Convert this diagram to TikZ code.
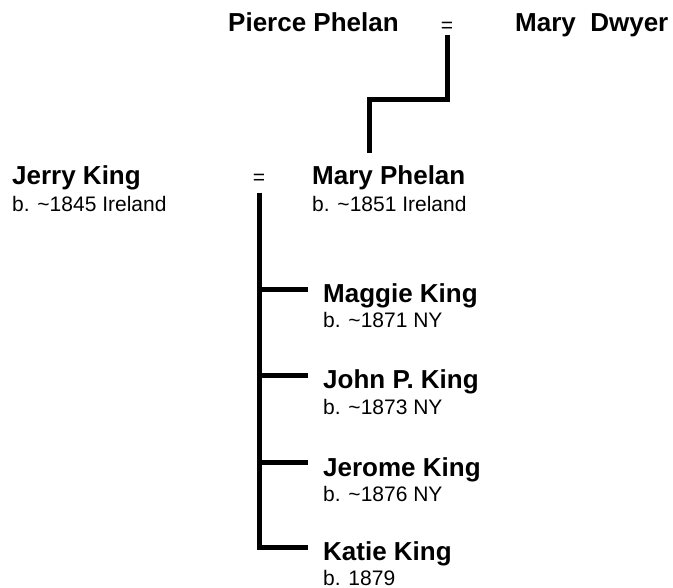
\documentclass[tikz,border=0pt]{standalone}
\usepackage{fontspec}
\setmainfont{Liberation Sans}
\begin{document}
\begin{tikzpicture}[x=1pt,y=-1pt,
  person/.style={anchor=base west,inner sep=0pt,font=\fontsize{26}{26}\selectfont\bfseries},
  born/.style={anchor=base west,inner sep=0pt,font=\fontsize{21}{21}\selectfont},
  marr/.style={inner sep=0pt,font=\fontsize{21}{21}\selectfont},
  famline/.style={line width=5pt}]
\useasboundingbox (0,0) rectangle (673,588);

% Mary's parents
\node[person] (pierce) at (228,32) {Pierce Phelan};
\node[marr] (eq1) at (447,27) {=};
\node[person] (dwyer) at (515,32) {Mary\ \ Dwyer};

% the couple
\node[person] (jerry) at (12,185) {Jerry King};
\node[born] (jerryb) at (12,212) {b. \textasciitilde1845 Ireland};
\node[marr] (eq2) at (259,179) {=};
\node[person] (mary) at (312,185) {Mary Phelan};
\node[born] (maryb) at (312,212) {b. \textasciitilde1851 Ireland};

%line from the parents down to Mary:
\coordinate (up) at (447,35);
\coordinate (down) at (369,153);
\draw[famline] (up) -- ++(0,65) -| (down);

% the children
\foreach \y/\nm/\b/\k in {290/Maggie King/b. \textasciitilde1871 NY/maggie,
    376/John P. King/b. \textasciitilde1873 NY/john,
    463/Jerome King/b. \textasciitilde1876 NY/jerome,
    547/Katie King/b. 1879/katie} {
  \node[person] (\k) at (323,\y+13) {\nm};
  \node[born] (\k b) at (323,\y+38) {\b};
  \coordinate (\k-j) at (259,\y);
  \draw[famline,shorten >=15pt] (\k-j) -- (\k-j -| \k.west);
}
\coordinate (kids) at (259,193);
\draw[famline] (kids) -- ([yshift=-2.5pt]katie-j);
\end{tikzpicture}
\end{document}
